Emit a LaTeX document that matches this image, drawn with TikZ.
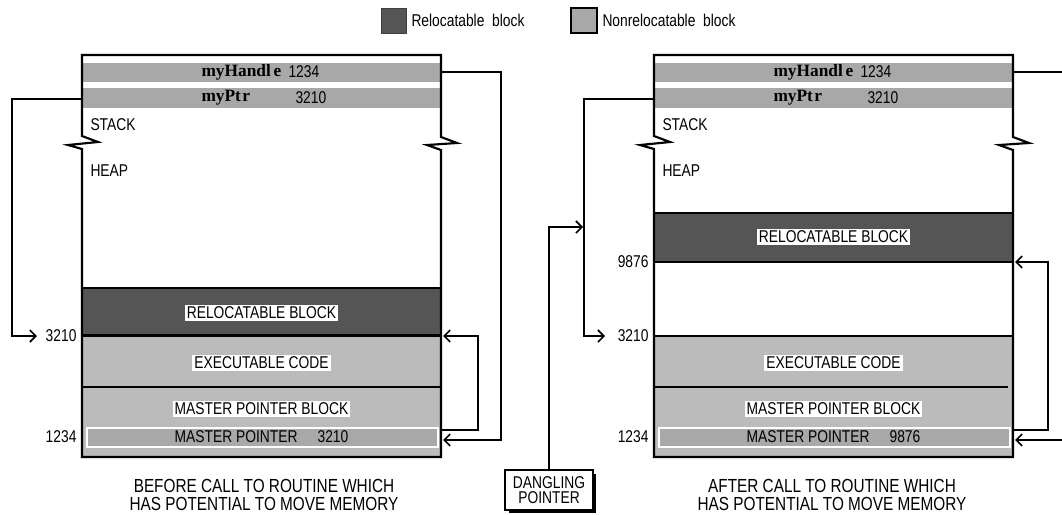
\documentclass[tikz,border=0pt]{standalone}
\usepackage{fontspec}
\setmainfont{Liberation Sans}[FakeStretch=0.81]
\newfontfamily\codefont{Liberation Serif}
\usetikzlibrary{arrows.meta}

\definecolor{relocgray}{RGB}{85,85,85}
\definecolor{nonrelocgray}{RGB}{187,187,187}
\definecolor{bargray}{RGB}{168,168,168}

\tikzset{every picture/.style={line width=0.75pt}}
\tikzset{
  lbl/.style={inner sep=0.75pt, font=\fontsize{12.8}{13}\selectfont},
  tag/.style={lbl, fill=white, inner sep=1.5pt},
  code/.style={inner sep=0.75pt, font=\codefont\bfseries\fontsize{13}{14}\selectfont},
  caption/.style={inner sep=0.75pt, align=center, font=\fontsize{14.2}{13.5}\selectfont},
  wall/.style={line width=1.6pt, line join=miter},
  wire/.style={line width=1.5pt},
  ptr/.style={line width=1.5pt, -{Straight Barb[length=4.5pt,width=9pt,line width=1.2pt]}},
}

\begin{document}
\begin{tikzpicture}[x=0.75pt,y=0.75pt,yscale=-1,xscale=1]
      \useasboundingbox (0,0) rectangle (1062,514);

      %Legend
      \draw [fill=relocgray, draw=black!75] (381,8) rectangle (406,33) ;
      \node [lbl, anchor=west] (legReloc) at (410,20) {Relocatable\ \ block};
      \draw [fill=bargray, line width=1.2pt] (571,8) rectangle (597,33) ;
      \node [lbl, anchor=west] (legNonreloc) at (601,20) {Nonrelocatable\ \ block};

      %Left heap: fills
      \fill [bargray] (82,63) rectangle (441,82) ;
      \fill [bargray] (82,88) rectangle (441,108) ;
      \draw [fill=relocgray, line width=1.5pt] (82,288) rectangle (441,335) ;
      \fill [nonrelocgray] (82,336) rectangle (441,457) ;
      \draw [line width=1.5pt] (82,336) -- (441,336) ;
      \draw [line width=1.2pt] (82,387) -- (441,387) ;
      \draw [fill=bargray, draw=white, line width=1.5pt] (87,428) rectangle (438,447) ;
      %Left heap: outline with breaks
      \draw [wall] (82,136) -- (82,55) -- (441,55) -- (441,137) -- (457,143) -- (427,145) -- (441,150) -- (441,457) -- (82,457) -- (82,149) -- (68,145) -- (98,142) -- cycle ;

      %Right heap: fills
      \fill [bargray] (654,63) rectangle (1013,82) ;
      \fill [bargray] (654,88) rectangle (1013,108) ;
      \draw [fill=relocgray, line width=1.5pt] (654,213) rectangle (1013,262) ;
      \fill [nonrelocgray] (654,336) rectangle (1013,457) ;
      \draw [line width=1.5pt] (654,336) -- (1013,336) ;
      \draw [line width=1.2pt] (654,387) -- (1008,387) ;
      \draw [fill=bargray, draw=white, line width=1.5pt] (659,428) rectangle (1010,447) ;
      %Right heap: outline with breaks
      \draw [wall] (654,136) -- (654,55) -- (1013,55) -- (1013,137) -- (1029,143) -- (999,145) -- (1013,150) -- (1013,457) -- (654,457) -- (654,149) -- (640,145) -- (670,142) -- cycle ;

      % Text Nodes, left
      \node [code, anchor=west] (hndNameL) at (200,72) {myHandl\kern2pt e};
      \node [lbl, anchor=west] (hndValL) at (287,72) {1234};
      \node [code, anchor=west] (ptrNameL) at (200,98) {myPt\kern1pt r};
      \node [lbl, anchor=west] (ptrValL) at (294,98) {3210};
      \node [lbl, anchor=west] (stackL) at (89,125) {STACK};
      \node [lbl, anchor=west] (heapL) at (89,171) {HEAP};
      \node [tag] (relocL) at (261.5,313) {RELOCATABLE BLOCK};
      \node [tag] (execL) at (261.5,363) {EXECUTABLE CODE};
      \node [tag] (mpbL) at (261.5,409) {MASTER POINTER BLOCK};
      \node [lbl] (mpL) at (261.5,437) {MASTER POINTER\hspace{15pt}3210};
      \node [lbl, anchor=east] (adrExecL) at (78,336) {3210};
      \node [lbl, anchor=east] (adrMpL) at (78,437) {1234};
      \node [caption] (capL) at (264,495) {BEFORE CALL TO ROUTINE WHICH\\HAS POTENTIAL TO MOVE MEMORY};

      % Text Nodes, right
      \node [code, anchor=west] (hndNameR) at (772,72) {myHandl\kern2pt e};
      \node [lbl, anchor=west] (hndValR) at (859,72) {1234};
      \node [code, anchor=west] (ptrNameR) at (772,98) {myPt\kern1pt r};
      \node [lbl, anchor=west] (ptrValR) at (866,98) {3210};
      \node [lbl, anchor=west] (stackR) at (661,125) {STACK};
      \node [lbl, anchor=west] (heapR) at (661,171) {HEAP};
      \node [tag] (relocR) at (833.5,237) {RELOCATABLE BLOCK};
      \node [tag] (execR) at (833.5,363) {EXECUTABLE CODE};
      \node [tag] (mpbR) at (833.5,409) {MASTER POINTER BLOCK};
      \node [lbl] (mpR) at (833.5,437) {MASTER POINTER\hspace{15pt}9876};
      \node [lbl, anchor=east] (adrRelocR) at (650,262) {9876};
      \node [lbl, anchor=east] (adrExecR) at (650,336) {3210};
      \node [lbl, anchor=east] (adrMpR) at (650,437) {1234};
      \node [caption] (capR) at (832,495) {AFTER CALL TO ROUTINE WHICH\\HAS POTENTIAL TO MOVE MEMORY};

      %Dangling pointer box with shadow
      \fill (509,474) rectangle (596,513) ;
      \node [lbl, draw, fill=white, line width=1.2pt, align=center, minimum width=66pt, minimum height=30pt, font=\fontsize{12.8}{11.5}\selectfont] (dangling) at (549,490) {DANGLING\\POINTER};

      % Pointer ends
      \coordinate (hndOutL) at (442,72);
      \coordinate (ptrOutL) at (82,99);
      \coordinate (execInL) at (37,336);
      \coordinate (mpOutL) at (442,430);
      \coordinate (relocInL) at (443,336);
      \coordinate (mpInL) at (443,440);
      \coordinate (hndOutR) at (1014,72);
      \coordinate (hndEdgeR) at (1062,72);
      \coordinate (ptrOutR) at (654,99);
      \coordinate (execInR) at (605,336);
      \coordinate (mpOutR) at (1014,430);
      \coordinate (relocInR) at (1015,262);
      \coordinate (mpEdgeR) at (1062,440);
      \coordinate (mpInR) at (1015,440);
      \coordinate (oldInR) at (583,227);

      %Straight Lines
      \draw [ptr] (ptrOutL) -- (12,99) |- (execInL) ;
      \draw [ptr] (hndOutL) -- (501,72) |- (mpInL) ;
      \draw [ptr] (mpOutL) -- (478,430) |- (relocInL) ;
      \draw [ptr] (ptrOutR) -- (584,99) |- (execInR) ;
      \draw [ptr] (mpOutR) -- (1048,430) |- (relocInR) ;
      \draw [ptr] (mpEdgeR) -- (mpInR) ;
      \draw [wire] (hndOutR) -- (hndEdgeR) ;
      \draw [ptr] (dangling.north) |- (oldInR) ;
\end{tikzpicture}
\end{document}
